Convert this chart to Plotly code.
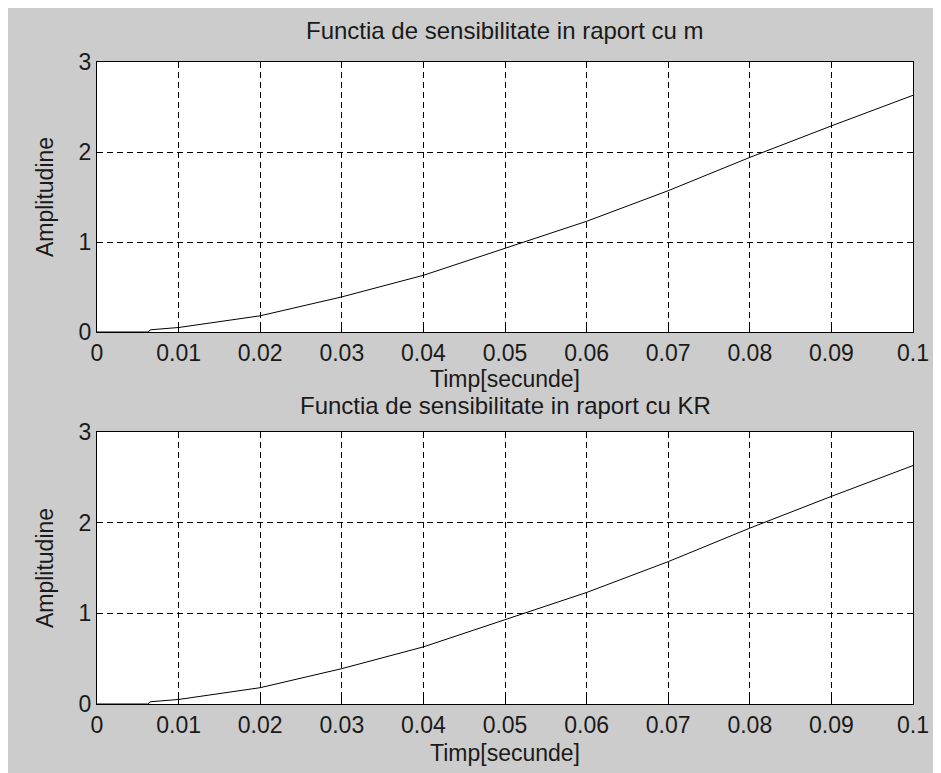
import plotly.graph_objects as go

# Data
time_s = [0, 0.003, 0.0062, 0.0066, 0.01, 0.02, 0.03, 0.04, 0.05, 0.06, 0.07, 0.08, 0.09, 0.1]
sens_m = [0, 0, 0, 0.025, 0.05, 0.18, 0.39, 0.63, 0.93, 1.23, 1.57, 1.94, 2.29, 2.63]
sens_kr = [0, 0, 0, 0.025, 0.05, 0.18, 0.39, 0.63, 0.93, 1.23, 1.57, 1.94, 2.29, 2.63]

x_ticks = [0, 0.01, 0.02, 0.03, 0.04, 0.05, 0.06, 0.07, 0.08, 0.09, 0.1]
x_ticklabels = ["0", "0.01", "0.02", "0.03", "0.04", "0.05", "0.06", "0.07", "0.08", "0.09", "0.1"]
y_ticks = [0, 1, 2, 3]
y_ticklabels = ["0", "1", "2", "3"]

titles = ["Functia de sensibilitate in raport cu m", "Functia de sensibilitate in raport cu KR"]
x_title = "Timp[secunde]"
y_title = "Amplitudine"

OFF = 8  # page body margin
W, H = 941 - OFF, 773 - OFF
ML, MR, MT, MB = 97 - OFF, 28, 62 - OFF, 69
PW = W - ML - MR
PH = H - MT - MB

def py(p):
    # p: y pixel in the reference screenshot
    return (H - MB - (p - OFF)) / PH

FONT = "Liberation Sans, Arial, sans-serif"
TXT = "#1a1a1a"

fig = go.Figure()
fig.add_trace(go.Scatter(x=time_s, y=sens_m, mode="lines", line=dict(color="black", width=1),
                         xaxis="x", yaxis="y", showlegend=False))
fig.add_trace(go.Scatter(x=time_s, y=sens_kr, mode="lines", line=dict(color="black", width=1),
                         xaxis="x2", yaxis="y2", showlegend=False))

axis_common = dict(
    showline=True, linecolor="black", linewidth=1, mirror="ticks",
    ticks="inside", ticklen=6, tickcolor="black", tickwidth=1,
    showgrid=True, gridcolor="black", griddash="6px,4px", gridwidth=1,
    zeroline=False, tickfont=dict(family=FONT, size=23, color=TXT),
    fixedrange=True,
)

top_dom = [py(332), 1.0]
bot_dom = [0.0, py(432)]

xt = dict(text=x_title, font=dict(size=23, family=FONT, color=TXT), standoff=4)
yt = dict(text=y_title, font=dict(size=23, family=FONT, color=TXT), standoff=18)
xt2 = dict(text=x_title, font=dict(size=23, family=FONT, color=TXT), standoff=8)

fig.update_layout(
    width=W, height=H,
    margin=dict(l=ML, r=MR, t=MT, b=MB, pad=0),
    paper_bgcolor="#cccccc", plot_bgcolor="white",
    font=dict(family=FONT, color=TXT),
    xaxis=dict(domain=[0, 1], anchor="y", range=[0, 0.1], tickvals=x_ticks, ticktext=x_ticklabels,
               title=xt, **axis_common),
    yaxis=dict(domain=top_dom, anchor="x", range=[0, 3], tickvals=y_ticks, ticktext=y_ticklabels,
               title=yt, **axis_common),
    xaxis2=dict(domain=[0, 1], anchor="y2", range=[0, 0.1], tickvals=x_ticks, ticktext=x_ticklabels,
                title=xt2, **axis_common),
    yaxis2=dict(domain=bot_dom, anchor="x2", range=[0, 3], tickvals=y_ticks, ticktext=y_ticklabels,
                title=yt, **axis_common),
    annotations=[
        dict(text=titles[0], x=0.5, y=py(30), xref="paper", yref="paper", showarrow=False,
             font=dict(size=24, family=FONT, color=TXT), xanchor="center", yanchor="middle"),
        dict(text=titles[1], x=0.5, y=py(405), xref="paper", yref="paper", showarrow=False,
             font=dict(size=24, family=FONT, color=TXT), xanchor="center", yanchor="middle"),
    ],
)

fig.write_html("out.html")
